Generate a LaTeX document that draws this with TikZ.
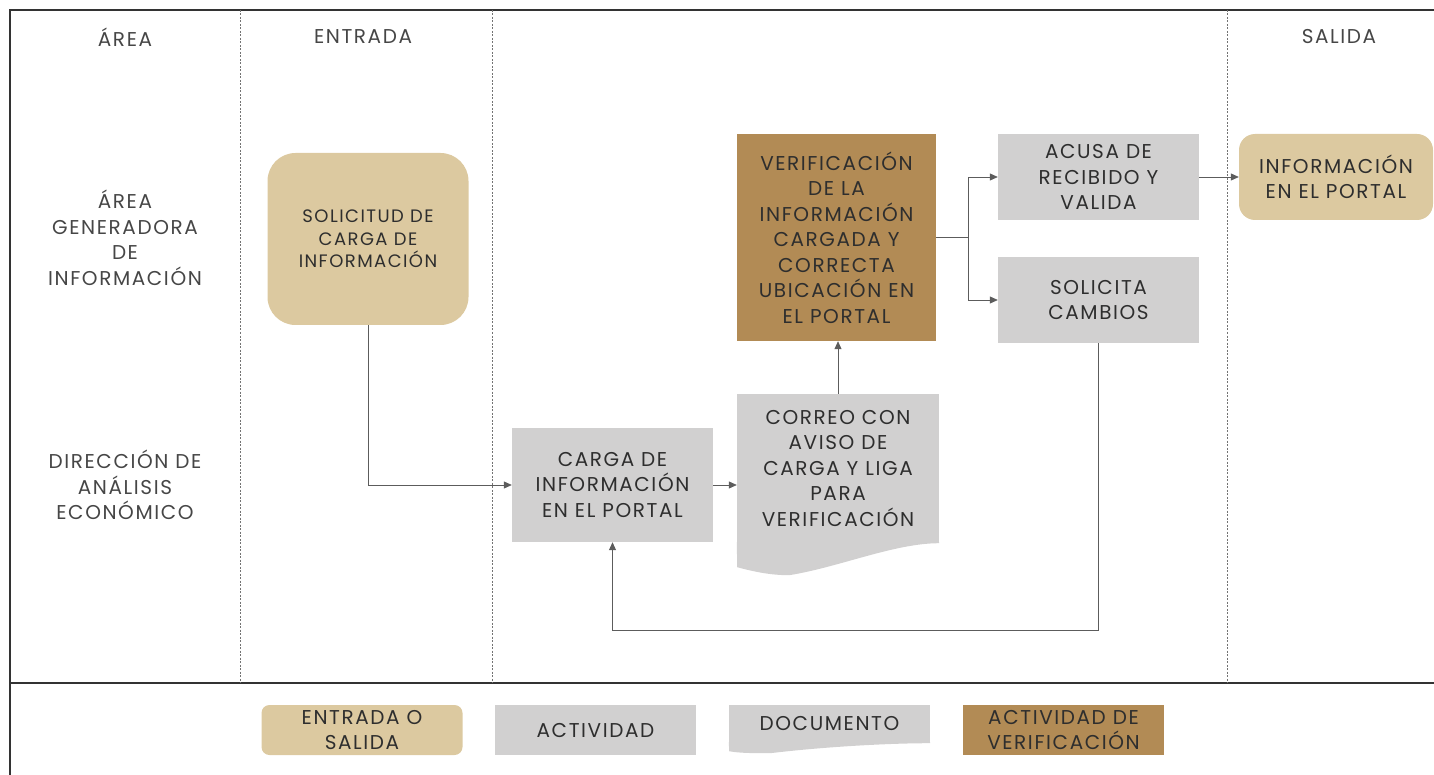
\documentclass[tikz,border=0pt]{standalone}
\usepackage{fontspec}
\setmainfont{Poppins}[LetterSpace=8]
\usetikzlibrary{arrows.meta}
\definecolor{arena}{HTML}{DCC9A0}
\definecolor{gris}{HTML}{D1D0D0}
\definecolor{cafe}{HTML}{B28B55}
\definecolor{texto}{HTML}{2E2E2E}
\definecolor{encabezado}{HTML}{464646}
\definecolor{linea}{HTML}{5C5C5C}
\tikzset{
	marco/.style={draw=black!80, line width=1.6pt},
	punteado/.style={draw=black!55, line width=0.8pt, dash pattern=on 2pt off 1.5pt},
	etiqueta/.style={align=center, text=encabezado, font=\fontsize{20}{25.5}\selectfont},
	caja/.style={inner sep=0pt, minimum width=201pt, align=center, text=texto, font=\fontsize{20}{25.5}\selectfont},
	actividad/.style={caja, fill=gris},
	verificacion/.style={caja, fill=cafe},
	entsal/.style={caja, fill=arena},
	flecha/.style={draw=linea, line width=0.8pt, -{Stealth[length=8pt, width=7pt, inset=0pt]}},
	conector/.style={draw=linea, line width=0.8pt}
}
\begin{document}
\begin{tikzpicture}[x=1pt, y=-1pt]
	\useasboundingbox (0,0) rectangle (1434,775);

	% marco y carriles
	\draw[marco] (10,775) -- (10,10) -- (1434,10);
	\draw[marco] (10,683) -- (1434,683);
	\foreach \x in {240,492,1227}
		\draw[punteado] (\x,10) -- (\x,683);

	% encabezados
	\node[etiqueta] (hArea) at (125,37) {ÁREA};
	\node[etiqueta] (hEntrada) at (363,37) {ENTRADA};
	\node[etiqueta] (hSalida) at (1339,37) {SALIDA};
	\node[etiqueta] (lGeneradora) at (125,238) {ÁREA\\GENERADORA\\DE\\INFORMACIÓN};
	\node[etiqueta] (lDireccion) at (125,485) {DIRECCIÓN DE\\ANÁLISIS\\ECONÓMICO};

	% nodos
	\node[entsal, minimum height=172pt, rounded corners=28pt, font=\fontsize{18}{22.5}\selectfont] (solicitud) at (368,239) {SOLICITUD DE\\CARGA DE\\INFORMACIÓN};
	\node[actividad, minimum height=114pt] (carga) at (612.5,485) {CARGA DE\\INFORMACIÓN\\EN EL PORTAL};
	\node[actividad, minimum width=202pt, minimum height=149pt] (correo) at (838,468.5) {CORREO CON\\AVISO DE\\CARGA Y LIGA\\PARA\\VERIFICACIÓN};
	\fill[gris] ([yshift=1pt]correo.south east) -- (correo.south east)
		.. controls +(-45,0) and +(50,-8) .. ++(-150,32)
		.. controls +(-20,0) and +(15,4) .. ++(-52,-8)
		-- ([yshift=1pt]correo.south west) -- cycle;
	\node[verificacion, minimum width=199pt, minimum height=207pt] (verif) at (836.5,237.5) {VERIFICACIÓN\\DE LA\\INFORMACIÓN\\CARGADA Y\\CORRECTA\\UBICACIÓN EN\\EL PORTAL};
	\node[actividad, minimum height=86pt] (acusa) at (1098.5,177) {ACUSA DE\\RECIBIDO Y\\VALIDA};
	\node[actividad, minimum height=86pt] (solicita) at (1098.5,300) {SOLICITA\\CAMBIOS};
	\node[entsal, minimum width=194pt, minimum height=86pt, rounded corners=16pt] (info) at (1336,177) {INFORMACIÓN\\EN EL PORTAL};

	% conectores
	\coordinate (rama) at (968,237.5);
	\draw[flecha] (solicitud.south) |- (carga.west);
	\draw[flecha] (carga.east) -- (carga.east -| correo.west);
	\draw[flecha] (correo.north) -- (correo.north |- verif.south);
	\draw[conector] (verif.east) -- (rama);
	\draw[flecha] (rama) |- (acusa.west);
	\draw[flecha] (rama) |- (solicita.west);
	\draw[flecha] (acusa.east) -- (info.west);
	\draw[flecha] (solicita.south) -- ++(0,287) -| (carga.south);

	% simbologia
	\node[entsal, minimum height=50pt, rounded corners=8pt] (lEntrada) at (362,730) {ENTRADA O\\SALIDA};
	\node[actividad, minimum height=50pt] (lActividad) at (595.5,730) {ACTIVIDAD};
	\node[actividad, minimum height=38pt] (lDocumento) at (829.5,724) {DOCUMENTO};
	\fill[gris] ([yshift=1pt]lDocumento.south east) -- (lDocumento.south east)
		.. controls +(-45,0) and +(50,-6) .. ++(-160,10)
		.. controls +(-15,0) and +(10,2) .. ++(-41,-2)
		-- ([yshift=1pt]lDocumento.south west) -- cycle;
	\node[verificacion, minimum height=50pt] (lVerif) at (1063.5,730) {ACTIVIDAD DE\\VERIFICACIÓN};
\end{tikzpicture}
\end{document}
